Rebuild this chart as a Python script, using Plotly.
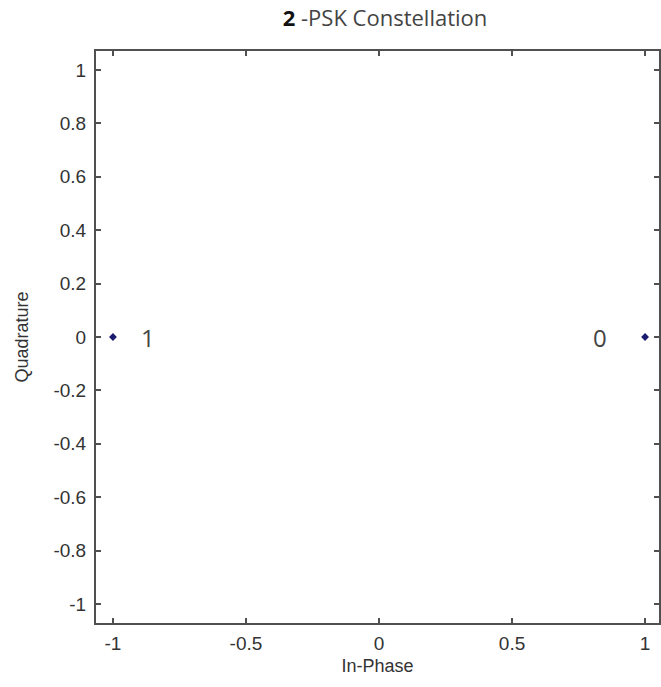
import plotly.graph_objects as go

# Data
symbols_i = [-1.0, 1.0]
symbols_q = [0.0, 0.0]
symbol_labels = ["1", "0"]
label_offset_i = [0.13, -0.17]
x_ticks = [-1, -0.5, 0, 0.5, 1]
x_tick_text = ["-1", "-0.5", "0", "0.5", "1"]
y_ticks = [-1, -0.8, -0.6, -0.4, -0.2, 0, 0.2, 0.4, 0.6, 0.8, 1]
y_tick_text = ["-1", "-0.8", "-0.6", "-0.4", "-0.2", "0", "0.2", "0.4", "0.6", "0.8", "1"]

fig = go.Figure()
fig.add_trace(go.Scatter(
    x=symbols_i, y=symbols_q, mode="markers",
    marker=dict(color="#1a1a6e", size=6, symbol="diamond"),
    showlegend=False, cliponaxis=False,
))

for xi, yi, lab, off in zip(symbols_i, symbols_q, symbol_labels, label_offset_i):
    fig.add_annotation(x=xi + off, y=yi, text=lab, showarrow=False,
                       font=dict(family="Open Sans", size=24, color="#444444"),
                       xanchor="center", yanchor="middle")

tick_font = dict(family="Liberation Sans, Arial, sans-serif", size=19, color="#333333")
title_font = dict(family="Liberation Sans, Arial, sans-serif", size=18, color="#333333")
axis_common = dict(
    showgrid=False, zeroline=False, showline=True, linecolor="#505050", linewidth=2,
    mirror="ticks", ticks="inside", ticklen=5, tickcolor="#505050", tickwidth=1.5,
    tickfont=tick_font,
)

fig.update_xaxes(range=[-1.0637, 1.0524], tickvals=x_ticks, ticktext=x_tick_text, ticklabelstandoff=2,
                 title=dict(text="In-Phase", font=title_font, standoff=7),
                 **axis_common)
fig.update_yaxes(range=[-1.071, 1.071], tickvals=y_ticks, ticktext=y_tick_text, ticklabelstandoff=4,
                 title=dict(text="Quadrature", font=title_font, standoff=20),
                 **axis_common)

fig.update_layout(
    width=661, height=687,
    margin=dict(l=96, r=0, t=51, b=64),
    paper_bgcolor="white", plot_bgcolor="white",
    title=dict(text="<b style='color:#111111'>2</b> -PSK Constellation",
               font=dict(family="Open Sans", size=22, color="#444444"),
               x=385/661, xanchor="center", y=1 - 18/687, yanchor="middle"),
)

fig.write_html("out.html")
